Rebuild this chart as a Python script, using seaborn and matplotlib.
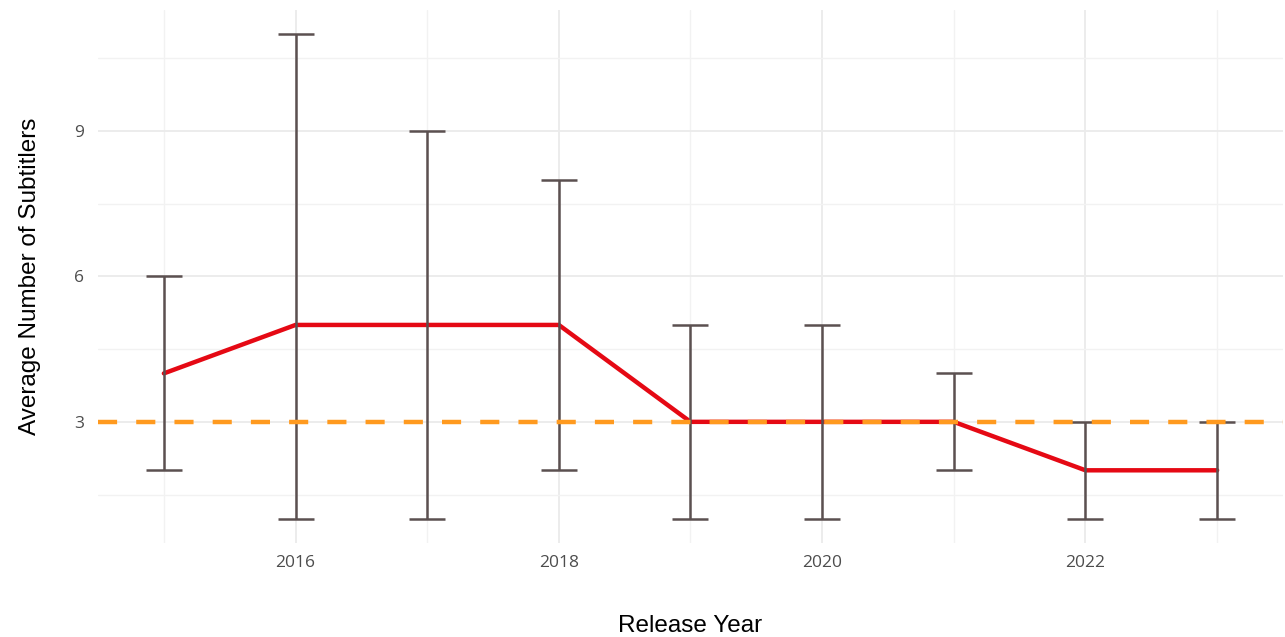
import numpy as np
import pandas as pd
import matplotlib
matplotlib.use("Agg")
import matplotlib.pyplot as plt
from matplotlib.ticker import MultipleLocator
import seaborn as sns

years = [2015, 2016, 2017, 2018, 2019, 2020, 2021, 2022, 2023]
mean_subtitlers = [4, 5, 5, 5, 3, 3, 3, 2, 2]
min_subtitlers = [2, 1, 1, 2, 1, 1, 2, 1, 1]
max_subtitlers = [6, 11, 9, 8, 5, 5, 4, 3, 3]
overall_reference = 3

df = pd.DataFrame({"year": years, "mean": mean_subtitlers,
                   "lo": min_subtitlers, "hi": max_subtitlers})

sns.set_theme(style="whitegrid")
plt.rcParams["font.family"] = ["Liberation Sans", "DejaVu Sans"]

fig = plt.figure(figsize=(12.85, 6.37), dpi=100)
ax = fig.add_axes([0.0763, 0.1476, 0.9221, 0.8367])

sns.lineplot(data=df, x="year", y="mean", ax=ax, color="#E50914",
             linewidth=3.2, zorder=3)

yerr = np.array([df["mean"] - df["lo"], df["hi"] - df["mean"]])
ax.errorbar(df["year"], df["mean"], yerr=yerr, fmt="none",
            ecolor="#5b5050", elinewidth=1.8, capsize=13, capthick=1.8,
            zorder=4)

ax.axhline(overall_reference, color="#FF9A1F", linewidth=3.2,
           linestyle=(0, (4.3, 4.3)), zorder=5)

ax.set_xlim(2014.5, 2023.5)
ax.set_ylim(0.5, 11.5)
ax.xaxis.set_major_locator(MultipleLocator(2))
ax.xaxis.set_minor_locator(MultipleLocator(1))
ax.yaxis.set_major_locator(MultipleLocator(3))
ax.yaxis.set_minor_locator(MultipleLocator(1.5))

ax.grid(which="major", color="#EBEBEB", linewidth=1.3)
ax.grid(which="minor", color="#F2F2F2", linewidth=1.0)
ax.set_axisbelow(True)
for s in ax.spines.values():
    s.set_visible(False)

ax.tick_params(axis="both", which="both", length=0, colors="#4D4D4D",
               labelsize=12.5)
ax.tick_params(axis="x", pad=9)
ax.tick_params(axis="y", pad=10)
for lab in ax.get_xticklabels() + ax.get_yticklabels():
    lab.set_family(["Open Sans", "DejaVu Sans"])

ax.set_xlabel("Release Year", fontsize=17.5, color="black", labelpad=31)
ax.set_ylabel("Average Number of Subtitlers", fontsize=17.5, color="black",
              labelpad=24)

fig.savefig("out.png", dpi=100)
